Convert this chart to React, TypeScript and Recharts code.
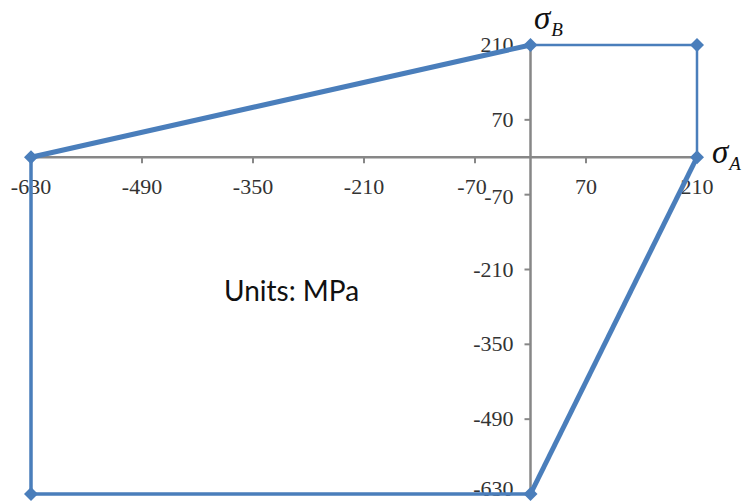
import React from "react";
import {
  ComposedChart,
  Scatter,
  XAxis,
  YAxis,
  ReferenceLine,
  ReferenceDot,
} from "recharts";

// envelope vertices, in order round the polygon
const sigmaA = [-630, 0, 210, 210, 0, -630, -630];
const sigmaB = [0, 210, 210, 0, -630, -630, 0];

const xTicks = [-630, -490, -350, -210, -70, 70, 210];
const yTicks = [210, 70, -70, -210, -350, -490, -630];

const BLUE = "#4a7ebb";
const GREY = "#878787";
const SERIF = "'Liberation Serif', 'Times New Roman', serif";

const pts = (from: number, to: number) =>
  sigmaA.slice(from, to + 1).map((a, i) => ({ a, b: sigmaB[from + i] }));

// each edge group has its own stroke weight in the original
const segments = [
  { key: "upper", data: pts(0, 1), width: 5 },
  { key: "box", data: pts(1, 3), width: 2.5 },
  { key: "diag", data: pts(3, 4), width: 5 },
  { key: "lower", data: pts(4, 6), width: 3.5 },
];

const markers = sigmaA.slice(0, 6).map((a, i) => ({ a, b: sigmaB[i] }));

const Diamond = (props: any) => {
  const { cx, cy } = props;
  const r = 7;
  return (
    <polygon
      points={`${cx},${cy - r} ${cx + r},${cy} ${cx},${cy + r} ${cx - r},${cy}`}
      fill={BLUE}
    />
  );
};

const xTickShape = (label: number) => (props: any) => {
  const { cx, cy } = props;
  return (
    <g>
      {label !== -630 && label !== 210 && (
        <line x1={cx} y1={cy} x2={cx} y2={cy + 6} stroke={GREY} strokeWidth={2} />
      )}
      <text
        x={label === -70 ? cx - 3 : cx}
        y={cy + 32}
        textAnchor="middle"
        dominantBaseline="middle"
        fontFamily={SERIF}
        fontSize={22}
        fill="#333"
      >
        {label}
      </text>
    </g>
  );
};

const yTickShape = (label: number) => (props: any) => {
  const { cx, cy } = props;
  // bottom label nudged up so it stays inside the frame
  const dy = label === -630 ? -3 : label === -70 ? 4 : 2;
  return (
    <g>
      {label !== 210 && label !== -630 && (
        <line x1={cx} y1={cy} x2={cx - 6} y2={cy} stroke={GREY} strokeWidth={2} />
      )}
      <text
        x={cx - 17}
        y={cy + dy}
        textAnchor="end"
        dominantBaseline="middle"
        fontFamily={SERIF}
        fontSize={22}
        fill="#333"
      >
        {label}
      </text>
    </g>
  );
};

const sigmaStyle: React.CSSProperties = {
  position: "absolute",
  fontFamily: SERIF,
  fontStyle: "italic",
  fontSize: 33,
  lineHeight: "36px",
  color: "#111",
  whiteSpace: "nowrap",
};

const subStyle: React.CSSProperties = {
  fontSize: 19,
  position: "relative",
  top: 7,
  marginLeft: 1,
};

export default function App() {
  return (
    <div
      style={{
        position: "absolute",
        left: 0,
        top: 0,
        width: 745,
        height: 504,
        background: "#fff",
        overflow: "hidden",
      }}
    >
      <ComposedChart
        width={745}
        height={504}
        margin={{ top: 45, right: 48, bottom: 10, left: 31 }}
      >
        <XAxis type="number" dataKey="a" domain={[-630, 210]} hide />
        <YAxis type="number" dataKey="b" domain={[-630, 210]} hide />
        <ReferenceLine
          segment={[{ x: -630, y: 0 }, { x: 210, y: 0 }]}
          stroke={GREY}
          strokeWidth={2.5}
          ifOverflow="visible"
        />
        <ReferenceLine
          segment={[{ x: 0, y: 210 }, { x: 0, y: -630 }]}
          stroke={GREY}
          strokeWidth={2.5}
          ifOverflow="visible"
        />
        {xTicks.map((t) => (
          <ReferenceDot
            key={"x" + t}
            x={t}
            y={0}
            r={1}
            ifOverflow="visible"
            shape={xTickShape(t)}
          />
        ))}
        {yTicks.map((t) => (
          <ReferenceDot
            key={"y" + t}
            x={0}
            y={t}
            r={1}
            ifOverflow="visible"
            shape={yTickShape(t)}
          />
        ))}
        {segments.map((s) => (
          <Scatter
            key={s.key}
            data={s.data}
            dataKey="b"
            line={{ stroke: BLUE, strokeWidth: s.width }}
            shape={() => null}
            isAnimationActive={false}
          />
        ))}
        <Scatter
          data={markers}
          dataKey="b"
          fill={BLUE}
          shape={Diamond}
          legendType="none"
          isAnimationActive={false}
        />
      </ComposedChart>
      <div
        style={{
          position: "absolute",
          left: 224,
          top: 273,
          fontFamily: "Lato, 'Open Sans', sans-serif",
          fontSize: 28,
          color: "#111",
          whiteSpace: "nowrap",
        }}
      >
        Units: MPa
      </div>
      <div style={{ ...sigmaStyle, left: 534, top: 0 }}>
        σ<span style={subStyle}>B</span>
      </div>
      <div style={{ ...sigmaStyle, left: 712, top: 134 }}>
        σ<span style={subStyle}>A</span>
      </div>
    </div>
  );
}
